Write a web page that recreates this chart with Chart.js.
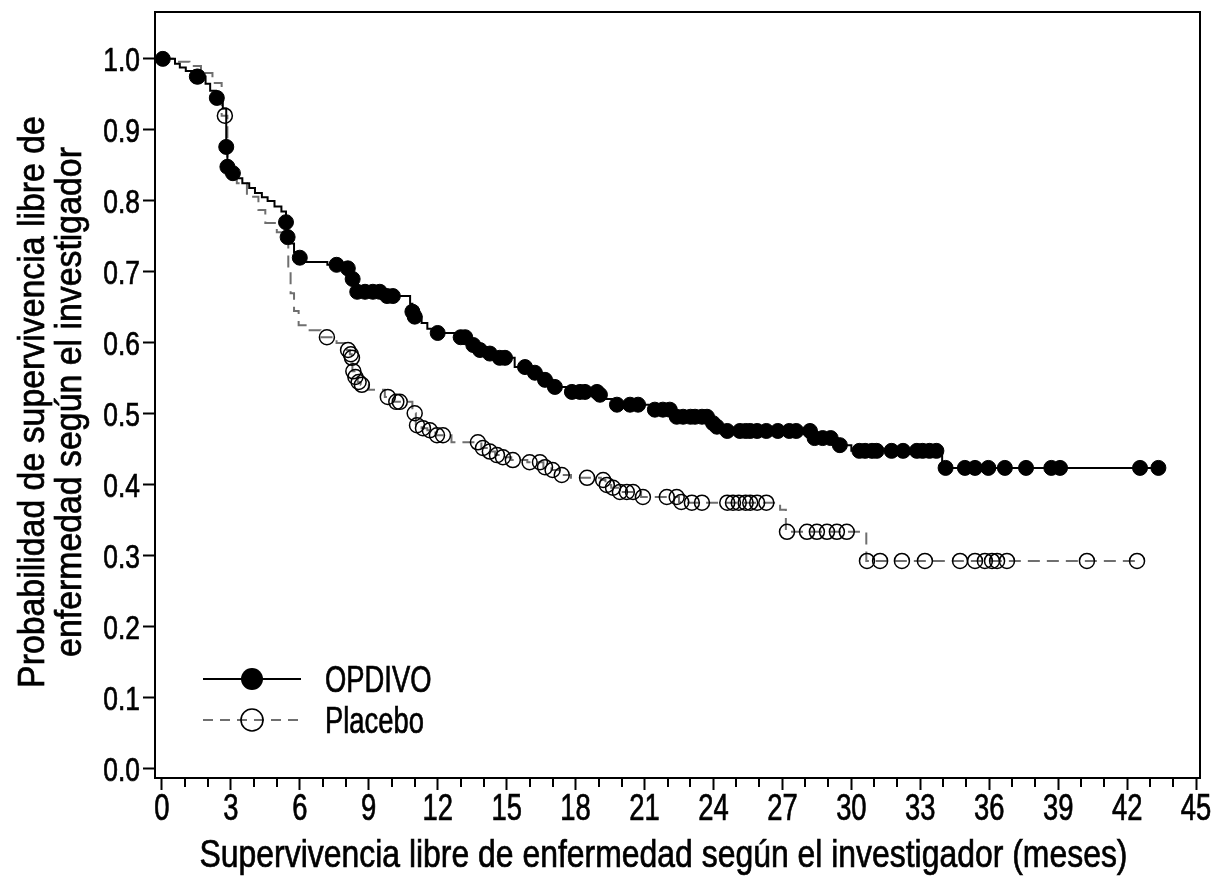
<!DOCTYPE html>
<html>
<head>
<meta charset="utf-8">
<script src="https://cdn.jsdelivr.net/npm/chart.js@4.4.1/dist/chart.umd.min.js"></script>
<style>
  html, body { margin: 0; padding: 0; background: #fff; }
  canvas { display: block; }
</style>
</head>
<body>
<canvas id="km" width="1215" height="888"></canvas>
<script>
// Kaplan-Meier step points (time in months, survival probability)
const opdivoTimes = [0, 0.57, 0.78, 1.04, 1.31, 1.52, 1.9, 2.1, 2.35, 2.65, 2.8, 2.85, 3.0, 3.05, 3.3, 3.5, 3.8, 4.05,
  4.35, 4.6, 4.9, 5.2, 5.4, 5.47, 5.6, 5.75, 5.95, 6.1, 7.2, 7.9, 8.25, 8.4, 9.7, 10.8, 10.9, 11.0,
  11.3, 11.55, 11.8, 12.9, 13.4, 13.5, 13.8, 14.2, 14.6, 15.35, 16.1, 16.55, 17.0, 17.6, 19.0, 19.3, 19.6, 21.3,
  22.3, 23.9, 24.1, 24.3, 28.33, 29.4, 30.0, 33.95];
const opdivoSurv = [1.0, 0.993, 0.988, 0.983, 0.978, 0.975, 0.965, 0.955, 0.945, 0.93, 0.876, 0.848, 0.842, 0.839, 0.832, 0.825, 0.818, 0.811,
  0.805, 0.8, 0.792, 0.785, 0.77, 0.749, 0.74, 0.728, 0.72, 0.714, 0.71, 0.705, 0.69, 0.672, 0.666, 0.655, 0.644, 0.637,
  0.628, 0.62, 0.614, 0.608, 0.6, 0.597, 0.59, 0.585, 0.579, 0.566, 0.558, 0.548, 0.538, 0.531, 0.527, 0.521, 0.513, 0.506,
  0.496, 0.487, 0.482, 0.476, 0.466, 0.456, 0.448, 0.424];
const opdivoCensored = [0.04, 1.52, 1.57, 2.39, 2.8, 2.85, 3.09, 5.4, 5.47, 6.0, 7.6, 8.09, 8.3, 8.5, 8.84, 9.18, 9.48, 9.8,
  10.05, 10.9, 11.0, 12.0, 13.0, 13.2, 13.55, 13.84, 14.27, 14.7, 14.93, 15.8, 16.23, 16.67, 17.1, 17.84, 18.19, 18.41,
  18.93, 19.06, 19.8, 20.37, 20.72, 21.45, 21.8, 22.1, 22.4, 22.68, 23.0, 23.2, 23.5, 23.72, 23.98, 24.15, 24.6, 25.15,
  25.4, 25.6, 25.9, 26.3, 26.8, 27.3, 27.6, 28.2, 28.4, 28.75, 29.1, 29.5, 30.35, 30.6, 30.9, 31.1, 31.75, 32.25,
  32.85, 33.1, 33.4, 33.7, 34.1, 34.94, 35.38, 35.96, 36.68, 37.6, 38.7, 39.08, 42.56, 43.36];

const placeboTimes = [0, 0.6, 1.2, 1.7, 2.2, 2.6, 2.85, 3.26, 3.7, 4.2, 4.5, 5.0, 5.5, 5.6, 5.75, 5.95, 6.3, 6.9,
  7.6, 8.05, 8.18, 8.26, 8.29, 8.38, 8.52, 8.65, 9.0, 9.7, 10.1, 10.9, 11.05, 11.3, 11.55, 11.9, 12.6, 13.9,
  14.2, 14.5, 14.8, 15.2, 15.9, 16.6, 16.95, 17.3, 17.8, 19.1, 19.3, 19.55, 19.85, 20.85, 22.5, 22.9, 26.9, 27.15, 30.65];
const placeboSurv = [1.0, 0.996, 0.99, 0.98, 0.966, 0.92, 0.84, 0.825, 0.806, 0.787, 0.769, 0.756, 0.7, 0.67, 0.645, 0.625, 0.618, 0.608,
  0.6, 0.59, 0.584, 0.579, 0.56, 0.552, 0.545, 0.541, 0.534, 0.524, 0.517, 0.501, 0.484, 0.48, 0.477, 0.47, 0.46, 0.452,
  0.447, 0.442, 0.439, 0.435, 0.432, 0.425, 0.421, 0.414, 0.41, 0.407, 0.4, 0.396, 0.39, 0.383, 0.376, 0.375, 0.365, 0.334, 0.293];
const placeboCensored = [2.74, 7.18, 8.1, 8.22, 8.27, 8.33, 8.42, 8.56, 8.7, 9.83, 10.2, 10.35, 11.0, 11.1, 11.36, 11.66,
  11.97, 12.23, 13.75, 13.97, 14.27, 14.58, 14.84, 15.27, 16.0, 16.45, 16.67, 17.0, 17.4, 18.5, 19.2, 19.36, 19.63,
  19.93, 20.23, 20.5, 20.93, 21.97, 22.4, 22.6, 23.06, 23.5, 24.6, 24.85, 25.1, 25.4, 25.6, 25.9, 26.3, 27.2, 28.07,
  28.5, 28.94, 29.37, 29.8, 30.68, 31.25, 32.2, 33.2, 34.73, 35.38, 35.81, 36.12, 36.34, 36.77, 40.25, 42.43];

const xTicks = [0, 3, 6, 9, 12, 15, 18, 21, 24, 27, 30, 33, 36, 39, 42, 45];
const yTicks = [0.0, 0.1, 0.2, 0.3, 0.4, 0.5, 0.6, 0.7, 0.8, 0.9, 1.0];
const seriesNames = ['OPDIVO', 'Placebo'];
const xTitle = 'Supervivencia libre de enfermedad según el investigador (meses)';
const yTitle = ['Probabilidad de supervivencia libre de', 'enfermedad según el investigador'];

// no condensed face installed, so Liberation Sans is squeezed horizontally
const FONT = "'Liberation Sans', Arial, sans-serif";
const GREY = '#6f6f6f';
Chart.defaults.font.family = FONT;
Chart.defaults.color = '#000';

// survival value of the step curve at time t
function survAt(times, surv, t) {
  let s = surv[0];
  for (let i = 0; i < times.length; i++) {
    if (times[i] <= t) s = surv[i];
  }
  return s;
}

function stepPoints(times, surv, censored) {
  const pts = times.map((t, i) => ({ x: t, y: surv[i] }));
  pts.push({ x: censored[censored.length - 1], y: surv[surv.length - 1] });
  return pts;
}

function censorPoints(times, surv, censored) {
  return censored.map(t => ({ x: t, y: survAt(times, surv, t) }));
}

function drawText(ctx, text, x, y, size, sx, align, rot) {
  ctx.save();
  ctx.translate(x, y);
  if (rot) ctx.rotate(rot);
  ctx.scale(sx, 1);
  ctx.font = size + 'px ' + FONT;
  ctx.textAlign = align;
  ctx.textBaseline = 'alphabetic';
  ctx.fillStyle = '#000';
  ctx.strokeStyle = '#000';
  ctx.lineWidth = 0.7;
  ctx.fillText(text, 0, 0);
  ctx.strokeText(text, 0, 0);
  ctx.restore();
}

// top and right sides of the box
const framePlugin = {
  id: 'frame',
  afterDraw(chart) {
    const { ctx, chartArea: a } = chart;
    ctx.save();
    ctx.strokeStyle = '#000';
    ctx.lineWidth = 2;
    ctx.beginPath();
    ctx.moveTo(a.left, a.top);
    ctx.lineTo(a.right, a.top);
    ctx.lineTo(a.right, a.bottom);
    ctx.stroke();
    ctx.restore();
  }
};

// one small tick per month between the labelled ones
const minorTicks = {
  id: 'minorTicks',
  afterDraw(chart) {
    const { ctx, chartArea: a } = chart;
    const xs = chart.scales.x;
    ctx.save();
    ctx.strokeStyle = '#000';
    ctx.lineWidth = 2;
    for (let m = 0; m <= 45; m++) {
      if (m % 3 === 0) continue;
      const px = Math.round(xs.getPixelForValue(m));
      ctx.beginPath();
      ctx.moveTo(px, a.bottom);
      ctx.lineTo(px, a.bottom + 9);
      ctx.stroke();
    }
    ctx.restore();
  }
};

// tick labels and axis titles, in a condensed look
const axisText = {
  id: 'axisText',
  afterDraw(chart) {
    const { ctx, chartArea: a } = chart;
    const xs = chart.scales.x, ys = chart.scales.y;
    yTicks.forEach(v => {
      drawText(ctx, v.toFixed(1), a.left - 15, ys.getPixelForValue(v) + 12, 33, 0.8, 'right');
    });
    xTicks.forEach(v => {
      drawText(ctx, String(v), xs.getPixelForValue(v), a.bottom + 42, 37, 0.74, 'center');
    });
    drawText(ctx, xTitle, (a.left + a.right) / 2 - 14, a.bottom + 89, 38, 0.84, 'center');
    const yc = (a.top + a.bottom) / 2 + 7;
    drawText(ctx, yTitle[0], 44, yc, 36, 0.94, 'center', -Math.PI / 2);
    drawText(ctx, yTitle[1], 81, yc, 36, 0.94, 'center', -Math.PI / 2);
  }
};

// legend: line with marker in the middle, inside the plot bottom-left
const kmLegend = {
  id: 'kmLegend',
  afterDraw(chart) {
    const { ctx, chartArea: a } = chart;
    const x0 = a.left + 48, x1 = a.left + 146, xm = a.left + 97;
    const rows = [a.bottom - 99, a.bottom - 58];
    ctx.save();
    // OPDIVO
    ctx.strokeStyle = '#000';
    ctx.lineWidth = 2;
    ctx.beginPath();
    ctx.moveTo(x0, rows[0]);
    ctx.lineTo(x1, rows[0]);
    ctx.stroke();
    ctx.fillStyle = '#000';
    ctx.beginPath();
    ctx.arc(xm, rows[0], 11, 0, Math.PI * 2);
    ctx.fill();
    // Placebo
    ctx.strokeStyle = GREY;
    ctx.setLineDash([10, 7]);
    ctx.beginPath();
    ctx.moveTo(x0, rows[1]);
    ctx.lineTo(x1, rows[1]);
    ctx.stroke();
    ctx.setLineDash([]);
    ctx.strokeStyle = '#000';
    ctx.lineWidth = 1.6;
    ctx.beginPath();
    ctx.arc(xm, rows[1], 11, 0, Math.PI * 2);
    ctx.stroke();
    ctx.restore();
    drawText(ctx, seriesNames[0], a.left + 170, rows[0] + 13, 36, 0.76, 'left');
    drawText(ctx, seriesNames[1], a.left + 170, rows[1] + 13, 36, 0.76, 'left');
  }
};

new Chart(document.getElementById('km'), {
  type: 'line',
  data: {
    datasets: [
      {
        label: seriesNames[0] + ' censored',
        type: 'scatter',
        data: censorPoints(opdivoTimes, opdivoSurv, opdivoCensored),
        showLine: false,
        pointRadius: 7.5,
        pointBackgroundColor: '#000',
        pointBorderColor: '#000',
        pointBorderWidth: 1,
        order: 0
      },
      {
        label: seriesNames[0],
        data: stepPoints(opdivoTimes, opdivoSurv, opdivoCensored),
        stepped: true,
        borderColor: '#000',
        borderWidth: 2,
        pointRadius: 0,
        fill: false,
        order: 1
      },
      {
        label: seriesNames[1] + ' censored',
        type: 'scatter',
        data: censorPoints(placeboTimes, placeboSurv, placeboCensored),
        showLine: false,
        pointRadius: 7.5,
        pointBackgroundColor: 'rgba(0,0,0,0)',
        pointBorderColor: '#000',
        pointBorderWidth: 1.5,
        order: 2
      },
      {
        label: seriesNames[1],
        data: stepPoints(placeboTimes, placeboSurv, placeboCensored),
        stepped: true,
        borderColor: GREY,
        borderWidth: 2,
        borderDash: [12, 7],
        pointRadius: 0,
        fill: false,
        order: 3
      }
    ]
  },
  options: {
    responsive: false,
    animation: false,
    layout: { padding: { top: 12, right: 15, left: 0, bottom: 0 } },
    plugins: {
      legend: { display: false },
      tooltip: { enabled: false }
    },
    scales: {
      x: {
        type: 'linear',
        min: -0.3,
        max: 45.17,
        afterFit(scale) { scale.height = 110; },
        afterBuildTicks(scale) { scale.ticks = xTicks.map(v => ({ value: v })); },
        grid: { drawOnChartArea: false, drawTicks: true, tickLength: 12, tickWidth: 2, tickColor: '#000' },
        border: { display: true, color: '#000', width: 2 },
        ticks: { display: false },
        title: { display: false, text: xTitle }
      },
      y: {
        type: 'linear',
        min: -0.0127,
        max: 1.066,
        afterFit(scale) { scale.width = 155; },
        afterBuildTicks(scale) { scale.ticks = yTicks.map(v => ({ value: v })); },
        grid: { drawOnChartArea: false, drawTicks: true, tickLength: 12, tickWidth: 2, tickColor: '#000' },
        border: { display: true, color: '#000', width: 2 },
        ticks: { display: false },
        title: { display: false, text: yTitle }
      }
    }
  },
  plugins: [framePlugin, minorTicks, axisText, kmLegend]
});
</script>
</body>
</html>
